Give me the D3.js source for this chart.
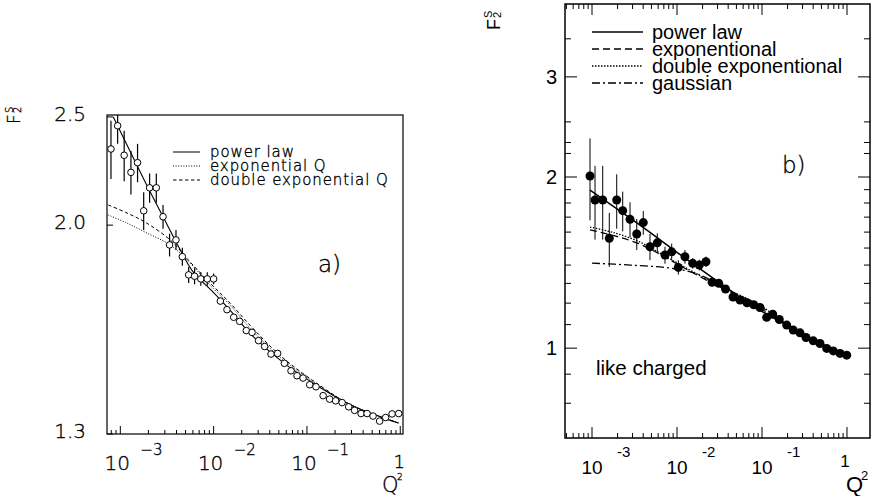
<!DOCTYPE html>
<html><head><meta charset="utf-8">
<script src="https://cdn.jsdelivr.net/npm/d3@7"></script>
<style>body{margin:0;background:#fff}svg{display:block}</style>
</head><body>
<svg id="c" width="874" height="496"></svg>
<script>
// ---------- Panel a) data ----------
const aQ = [7.94e-4, 9.36e-4, 1.10e-3, 1.30e-3, 1.53e-3, 1.78e-3, 2.06e-3, 2.43e-3, 2.87e-3, 3.37e-3,
  3.95e-3, 4.62e-3, 5.40e-3, 6.25e-3, 7.29e-3, 8.55e-3, 1.00e-2, 1.18e-2, 1.39e-2, 1.64e-2,
  1.90e-2, 2.24e-2, 2.58e-2, 3.03e-2, 3.52e-2, 4.12e-2, 4.85e-2, 5.73e-2, 6.75e-2, 7.83e-2,
  9.08e-2, 0.107, 0.125, 0.149, 0.175, 0.203, 0.238, 0.280, 0.324, 0.380,
  0.441, 0.511, 0.601, 0.697, 0.817, 0.962];
const aF = [2.34, 2.455, 2.31, 2.23, 2.275, 2.06, 2.16, 2.16, 2.035, 1.92,
  1.94, 1.874, 1.805, 1.80, 1.79, 1.79, 1.79, 1.71, 1.68, 1.654,
  1.64, 1.609, 1.603, 1.576, 1.557, 1.533, 1.535, 1.504, 1.481, 1.466,
  1.459, 1.439, 1.433, 1.407, 1.397, 1.392, 1.387, 1.375, 1.365, 1.356,
  1.356, 1.349, 1.335, 1.345, 1.355, 1.356];
const aErr = [0.14, 0.09, 0.12, 0.10, 0.09, 0.08, 0.065, 0.065, 0.05, 0.045,
  0.04, 0.035, 0.03, 0.03, 0.025, 0.025, 0.02, 0.012, 0, 0,
  0, 0, 0, 0, 0, 0, 0, 0, 0, 0, 0, 0, 0, 0, 0, 0, 0, 0, 0, 0, 0, 0, 0, 0, 0, 0];
const aPowQ = [8.41e-4, 1.28e-3, 2.10e-3, 2.89e-3, 4.40e-3, 6.06e-3, 9.93e-3, 1.51e-2, 2.47e-2, 5.58e-2, 0.129, 0.292, 0.659, 0.955];
const aPowF = [2.50, 2.327, 2.14, 2.033, 1.90, 1.815, 1.741, 1.677, 1.599, 1.506, 1.436, 1.381, 1.344, 1.33];
const aExpQ = [7.43e-4, 1.13e-3, 1.85e-3, 3.44e-3, 5.62e-3, 9.22e-3, 1.51e-2, 2.47e-2, 5.19e-2, 0.139, 0.292, 0.659, 0.955];
const aExpF = [2.042, 2.012, 1.971, 1.919, 1.849, 1.766, 1.695, 1.616, 1.522, 1.434, 1.381, 1.344, 1.33];
const aDexpF = [2.085, 2.054, 2.012, 1.939, 1.853, 1.774, 1.702, 1.626, 1.528, 1.436, 1.381, 1.344, 1.33];
const aYTicks = [1.3, 2.0, 2.5];
const aYLabels = ["1.3", "2.0", "2.5"];
const aLegend = ["power law", "exponential Q", "double exponential Q"];

// ---------- Panel b) data ----------
const bQ = [9.47e-4, 1.085e-3, 1.336e-3, 1.597e-3, 1.953e-3, 2.297e-3, 2.80e-3, 3.36e-3, 4.01e-3, 4.81e-3,
  5.86e-3, 7.22e-3, 8.66e-3, 1.036e-2, 1.24e-2, 1.53e-2, 1.83e-2, 2.19e-2, 2.59e-2, 3.10e-2,
  3.72e-2, 4.56e-2, 5.51e-2, 6.66e-2, 7.98e-2, 9.46e-2, 0.1135, 0.1336, 0.1598, 0.1953,
  0.2334, 0.280, 0.3294, 0.4013, 0.481, 0.577, 0.690, 0.828, 0.992];
const bF = [2.008, 1.822, 1.822, 1.560, 1.822, 1.745, 1.685, 1.588, 1.663, 1.508,
  1.532, 1.458, 1.477, 1.387, 1.448, 1.410, 1.400, 1.419, 1.306, 1.300,
  1.271, 1.230, 1.215, 1.202, 1.192, 1.179, 1.133, 1.147, 1.123, 1.098,
  1.076, 1.064, 1.044, 1.030, 1.019, 0.999, 0.989, 0.979, 0.972];
const bErr = [0.33, 0.27, 0.27, 0.17, 0.2, 0.14, 0.12, 0.1, 0.08, 0.08,
  0.06, 0.05, 0.05, 0.04, 0.04, 0.03, 0.03, 0.03, 0.02, 0.02,
  0, 0, 0, 0, 0, 0, 0, 0, 0, 0, 0, 0, 0, 0, 0, 0, 0, 0, 0];
const bPowQ = [9.47e-4, 3.67e-3, 1.028e-2, 3.21e-2, 7.83e-2, 0.2135, 0.481, 1.0];
const bPowF = [1.897, 1.646, 1.470, 1.301, 1.186, 1.089, 1.020, 0.968];
const bExpQ = [9.47e-4, 1.866e-3, 3.67e-3, 7.22e-3, 1.42e-2, 3.21e-2, 5.51e-2, 9.46e-2, 0.2135, 0.481, 1.0];
const bExpF = [1.614, 1.575, 1.524, 1.446, 1.366, 1.280, 1.235, 1.186, 1.089, 1.020, 0.968];
const bDexpF = [1.633, 1.594, 1.537, 1.452, 1.372, 1.285, 1.239, 1.190, 1.091, 1.021, 0.968];
const bGauQ = [1.0e-3, 2.80e-3, 8.27e-3, 1.63e-2, 3.21e-2, 6.31e-2, 0.124, 0.2135, 0.481, 1.0];
const bGauF = [1.411, 1.400, 1.383, 1.355, 1.291, 1.220, 1.148, 1.092, 1.021, 0.968];
const bYMajor = [1, 2, 3];
const bYMinor = [0.8, 0.9, 1.1, 1.2, 1.3, 1.4, 1.5, 1.6, 1.7, 1.8, 1.9, 2.2, 2.3, 2.5, 3.5];
const bLegend = ["power law", "exponentional", "double exponentional", "gaussian"];

const decades = [-3, -2, -1];

// ---------- drawing ----------
const svg = d3.select("#c");
const LIGHT = "'DejaVu Sans', sans-serif";
const HELV = "'Liberation Sans', Arial, sans-serif";
const isMajor = t => Math.abs(Math.log10(t) - Math.round(Math.log10(t))) < 1e-6;
const zip = (q, f) => q.map((v, i) => [v, f[i]]);
const light = (sel, size) => sel.attr("font-family", LIGHT).attr("font-weight", 200).attr("font-size", size)
  .attr("fill", "#000").attr("stroke", "#000").attr("stroke-width", 0.35);

// ===== Panel a =====
const xa = d3.scaleLog().domain([7.2e-4, 1.07]).range([107, 403]);
const ya = d3.scaleLog().domain([1.3, 2.51]).range([434, 115]);
const [ax0, ax1] = xa.range(), [ay0, ay1] = ya.range();
const ga = svg.append("g");
ga.append("clipPath").attr("id", "clipA").append("rect")
  .attr("x", ax0).attr("y", ay1).attr("width", ax1 - ax0).attr("height", ay0 - ay1);

ga.append("rect").attr("x", ax0).attr("y", ay1).attr("width", ax1 - ax0).attr("height", ay0 - ay1)
  .attr("fill", "none").attr("stroke", "#000").attr("stroke-width", 1.2);

xa.ticks().filter(t => t >= xa.domain()[0] && t <= xa.domain()[1]).forEach(t => {
  ga.append("line").attr("x1", xa(t)).attr("x2", xa(t)).attr("y1", ay0).attr("y2", ay0 - (isMajor(t) ? 8 : 4))
    .attr("stroke", "#000").attr("stroke-width", 1);
});
aYTicks.forEach((v, i) => {
  ga.append("line").attr("x1", ax0).attr("x2", ax0 + 6).attr("y1", ya(v)).attr("y2", ya(v)).attr("stroke", "#000");
  light(ga.append("text").attr("x", 86).attr("y", ya(v) + 4).attr("text-anchor", "end"), 20).text(aYLabels[i]);
});
decades.forEach(d => {
  const x = xa(Math.pow(10, d));
  light(ga.append("text").attr("x", x - 3).attr("y", 470).attr("text-anchor", "middle"), 20).text("10");
  light(ga.append("text").attr("x", x + 20).attr("y", 455).attr("text-anchor", "start"), 15).text("\u2212" + (-d));
});
light(ga.append("text").attr("x", xa(1) - 1).attr("y", 468).attr("text-anchor", "middle"), 18).text("1");
light(ga.append("text").attr("x", 382).attr("y", 492), 21).text("Q");
light(ga.append("text").attr("x", 397).attr("y", 480), 9).text("2");
// y title
const ta = ga.append("g").attr("transform", "translate(20,124) rotate(-90)");
light(ta.append("text").attr("x", 0).attr("y", 0), 17).text("F");
light(ta.append("text").attr("x", 11).attr("y", -7), 10).text("S");
light(ta.append("text").attr("x", 11).attr("y", 1), 10).text("2");

const lineA = d3.line().x(d => xa(d[0])).y(d => ya(d[1])).curve(d3.curveCatmullRom);
const plotA = ga.append("g").attr("clip-path", "url(#clipA)");
plotA.append("path").attr("d", lineA(zip(aExpQ, aExpF))).attr("fill", "none").attr("stroke", "#000")
  .attr("stroke-width", 1).attr("stroke-dasharray", "1,1.6");
plotA.append("path").attr("d", lineA(zip(aExpQ, aDexpF))).attr("fill", "none").attr("stroke", "#000")
  .attr("stroke-width", 1).attr("stroke-dasharray", "3.5,2.5");
plotA.append("path").attr("d", lineA(zip(aPowQ, aPowF))).attr("fill", "none").attr("stroke", "#000")
  .attr("stroke-width", 1.1);
aQ.forEach((q, i) => {
  if (aErr[i] > 0) plotA.append("line").attr("x1", xa(q)).attr("x2", xa(q))
    .attr("y1", ya(aF[i] + aErr[i])).attr("y2", ya(aF[i] - aErr[i])).attr("stroke", "#000").attr("stroke-width", 1.2);
});
aQ.forEach((q, i) => {
  plotA.append("circle").attr("cx", xa(q)).attr("cy", ya(aF[i])).attr("r", 3.3)
    .attr("fill", "#fff").attr("stroke", "#000").attr("stroke-width", 1);
});
// legend a
const aDash = [null, "1,1.6", "3.5,2.5"];
aLegend.forEach((s, i) => {
  const y = 152 + i * 14;
  ga.append("line").attr("x1", 173).attr("x2", 200).attr("y1", y).attr("y2", y).attr("stroke", "#000")
    .attr("stroke-width", 1).attr("stroke-dasharray", aDash[i]);
  light(ga.append("text").attr("x", 210).attr("y", y + 5).attr("letter-spacing", 0.9), 15).text(s);
});
light(ga.append("text").attr("x", 318).attr("y", 272), 23).text("a)");

// ===== Panel b =====
const xb = d3.scaleLog().domain([4.81e-4, 1.865]).range([565, 870]);
const yb = d3.scaleLog().domain([0.695, 4.03]).range([438, 4]);
const [bx0, bx1] = xb.range(), [by0, by1] = yb.range();
const gb = svg.append("g");
gb.append("clipPath").attr("id", "clipB").append("rect")
  .attr("x", bx0).attr("y", by1).attr("width", bx1 - bx0).attr("height", by0 - by1);
gb.append("rect").attr("x", bx0).attr("y", by1).attr("width", bx1 - bx0).attr("height", by0 - by1)
  .attr("fill", "none").attr("stroke", "#000").attr("stroke-width", 1.5);

xb.ticks().filter(t => t >= xb.domain()[0] && t <= xb.domain()[1]).forEach(t => {
  const L = isMajor(t) ? 11 : 5;
  gb.append("line").attr("x1", xb(t)).attr("x2", xb(t)).attr("y1", by0).attr("y2", by0 - L).attr("stroke", "#000");
  gb.append("line").attr("x1", xb(t)).attr("x2", xb(t)).attr("y1", by1).attr("y2", by1 + L).attr("stroke", "#000");
});
bYMajor.forEach(v => {
  gb.append("line").attr("x1", bx0).attr("x2", bx0 + 12).attr("y1", yb(v)).attr("y2", yb(v)).attr("stroke", "#000");
  gb.append("line").attr("x1", bx1).attr("x2", bx1 - 12).attr("y1", yb(v)).attr("y2", yb(v)).attr("stroke", "#000");
  gb.append("text").attr("x", 557).attr("y", yb(v) + 7).attr("text-anchor", "end")
    .attr("font-family", HELV).attr("font-size", 20).text(String(v));
});
bYMinor.forEach(v => {
  gb.append("line").attr("x1", bx0).attr("x2", bx0 + 6).attr("y1", yb(v)).attr("y2", yb(v)).attr("stroke", "#000");
  gb.append("line").attr("x1", bx1).attr("x2", bx1 - 6).attr("y1", yb(v)).attr("y2", yb(v)).attr("stroke", "#000");
});
decades.forEach(d => {
  const x = xb(Math.pow(10, d));
  gb.append("text").attr("x", x).attr("y", 474).attr("text-anchor", "middle")
    .attr("font-family", HELV).attr("font-size", 19).text("10");
  gb.append("text").attr("x", x + 25).attr("y", 457).attr("text-anchor", "start")
    .attr("font-family", HELV).attr("font-size", 15).text("-" + (-d));
});
gb.append("text").attr("x", xb(1) - 2).attr("y", 467).attr("text-anchor", "middle")
  .attr("font-family", HELV).attr("font-size", 17).text("1");
gb.append("text").attr("x", 846).attr("y", 492).attr("font-family", HELV).attr("font-size", 22).text("Q");
gb.append("text").attr("x", 861).attr("y", 480).attr("font-family", HELV).attr("font-size", 13).text("2");
const tb = gb.append("g").attr("transform", "translate(500,30) rotate(-90)");
tb.append("text").attr("x", 0).attr("y", 0).attr("font-family", HELV).attr("font-size", 18).text("F");
tb.append("text").attr("x", 12).attr("y", -8).attr("font-family", HELV).attr("font-size", 11).text("S");
tb.append("text").attr("x", 12).attr("y", 1).attr("font-family", HELV).attr("font-size", 11).text("2");

const lineB = d3.line().x(d => xb(d[0])).y(d => yb(d[1])).curve(d3.curveCatmullRom);
const plotB = gb.append("g").attr("clip-path", "url(#clipB)");
plotB.append("path").attr("d", lineB(zip(bExpQ, bDexpF))).attr("fill", "none").attr("stroke", "#000")
  .attr("stroke-width", 1.3).attr("stroke-dasharray", "1.5,1.5");
plotB.append("path").attr("d", lineB(zip(bExpQ, bExpF))).attr("fill", "none").attr("stroke", "#000")
  .attr("stroke-width", 1.3).attr("stroke-dasharray", "7,4");
plotB.append("path").attr("d", lineB(zip(bGauQ, bGauF))).attr("fill", "none").attr("stroke", "#000")
  .attr("stroke-width", 1.3).attr("stroke-dasharray", "8,3,2,3");
plotB.append("path").attr("d", lineB(zip(bPowQ, bPowF))).attr("fill", "none").attr("stroke", "#000")
  .attr("stroke-width", 1.5);
bQ.forEach((q, i) => {
  if (bErr[i] > 0) plotB.append("line").attr("x1", xb(q)).attr("x2", xb(q))
    .attr("y1", yb(bF[i] + bErr[i])).attr("y2", yb(bF[i] - bErr[i])).attr("stroke", "#000").attr("stroke-width", 1);
});
bQ.forEach((q, i) => {
  plotB.append("circle").attr("cx", xb(q)).attr("cy", yb(bF[i])).attr("r", 4.5).attr("fill", "#000");
});
const bDash = [null, "7,4", "1.5,1.5", "8,3,2,3"];
bLegend.forEach((s, i) => {
  const y = 32 + i * 17;
  gb.append("line").attr("x1", 592).attr("x2", 643).attr("y1", y).attr("y2", y).attr("stroke", "#000")
    .attr("stroke-width", 1.4).attr("stroke-dasharray", bDash[i]);
  gb.append("text").attr("x", 652).attr("y", y + 7).attr("font-family", HELV).attr("font-size", 20).text(s);
});
gb.append("text").attr("x", 596).attr("y", 375).attr("font-family", HELV).attr("font-size", 20.5).text("like charged");
light(gb.append("text").attr("x", 782).attr("y", 173), 23).text("b)");
</script>
</body></html>
